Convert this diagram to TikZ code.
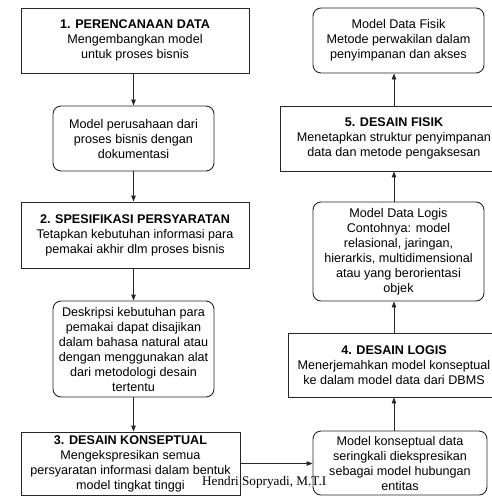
\documentclass[tikz,border=0pt]{standalone}
\usepackage{fontspec}
\setmainfont{Liberation Sans}
\newfontfamily\sigfont{Liberation Serif}
\usetikzlibrary{arrows.meta}
\begin{document}
\begin{tikzpicture}[x=1pt,y=-1pt,
  box/.style={draw=black!85, line width=0.9pt, rectangle, inner sep=0pt, align=center,
    font=\fontsize{12.6}{15}\selectfont},
  rbox/.style={box, rounded corners=8pt},
  conn/.style={draw=black!85, line width=0.9pt, -{Triangle[length=6pt,width=4.5pt]}}]
\useasboundingbox (0,0) rectangle (492,496);
\clip (0,0) rectangle (492,496);
% left column
\node[box, minimum width=228pt, minimum height=65pt] (b1) at (135,40.5)
  {\textbf{1. PERENCANAAN DATA}\\Mengembangkan model\\untuk proses bisnis};
\node[rbox, minimum width=161pt, minimum height=65pt] (mA) at (133.5,138.5)
  {Model perusahaan dari\\proses bisnis dengan\\dokumentasi};
\node[box, minimum width=228pt, minimum height=66pt] (b2) at (135,235)
  {\textbf{2. SPESIFIKASI PERSYARATAN}\\Tetapkan kebutuhan informasi para\\pemakai akhir dlm proses bisnis};
\node[rbox, minimum width=161pt, minimum height=96pt] (mB) at (133.5,349)
  {Deskripsi kebutuhan para\\pemakai dapat disajikan\\dalam bahasa natural atau\\dengan menggunakan alat\\dari metodologi desain\\tertentu};
\node[box, minimum width=219pt, minimum height=63pt] (b3) at (130.5,463.5)
  {\textbf{3. DESAIN KONSEPTUAL}\\Mengekspresikan semua\\persyaratan informasi dalam bentuk\\model tingkat tinggi};
% right column
\node[rbox, minimum width=171pt, minimum height=65pt] (C) at (398.5,40.5)
  {Model Data Fisik\\Metode perwakilan dalam\\penyimpanan dan akses};
\node[box, minimum width=228pt, minimum height=65pt] (b5) at (394,138.5)
  {\textbf{5. DESAIN FISIK}\\Menetapkan struktur penyimpanan\\data dan metode pengaksesan};
\node[rbox, minimum width=171pt, minimum height=99pt] (D) at (398.5,251.5)
  {Model Data Logis\\Contohnya: model\\relasional, jaringan,\\hierarkis, multidimensional\\atau yang berorientasi\\objek};
\node[box, minimum width=212pt, minimum height=64pt] (b4) at (394,365)
  {\textbf{4. DESAIN LOGIS}\\Menerjemahkan model konseptual\\ke dalam model data dari DBMS};
\node[rbox, minimum width=174pt, minimum height=64pt] (E) at (400,463)
  {Model konseptual data\\seringkali diekspresikan\\sebagai model hubungan\\entitas};
% connectors
\draw[conn] (b1.south -| mA.north) -- (mA.north);
\draw[conn] (mA.south) -- (mA.south |- b2.north);
\draw[conn] (b2.south -| mA.north) -- (mB.north);
\draw[conn] (mB.south) -- (mB.south |- b3.north);
\draw[conn] (b3.east) -- (b3.east -| E.west);
\draw[conn] (E.north -| b4.south) -- (b4.south);
\draw[conn] (b4.north) -- (b4.north |- D.south);
\draw[conn] (D.north -| b5.south) -- (b5.south);
\draw[conn] (b5.north) -- (b5.north |- C.south);
% signature
\node[anchor=base west, inner sep=0pt, font=\sigfont\fontsize{13.2}{15}\selectfont] (sig) at (202,485) {Hendri Sopryadi, M.T.I};
\end{tikzpicture}
\end{document}
